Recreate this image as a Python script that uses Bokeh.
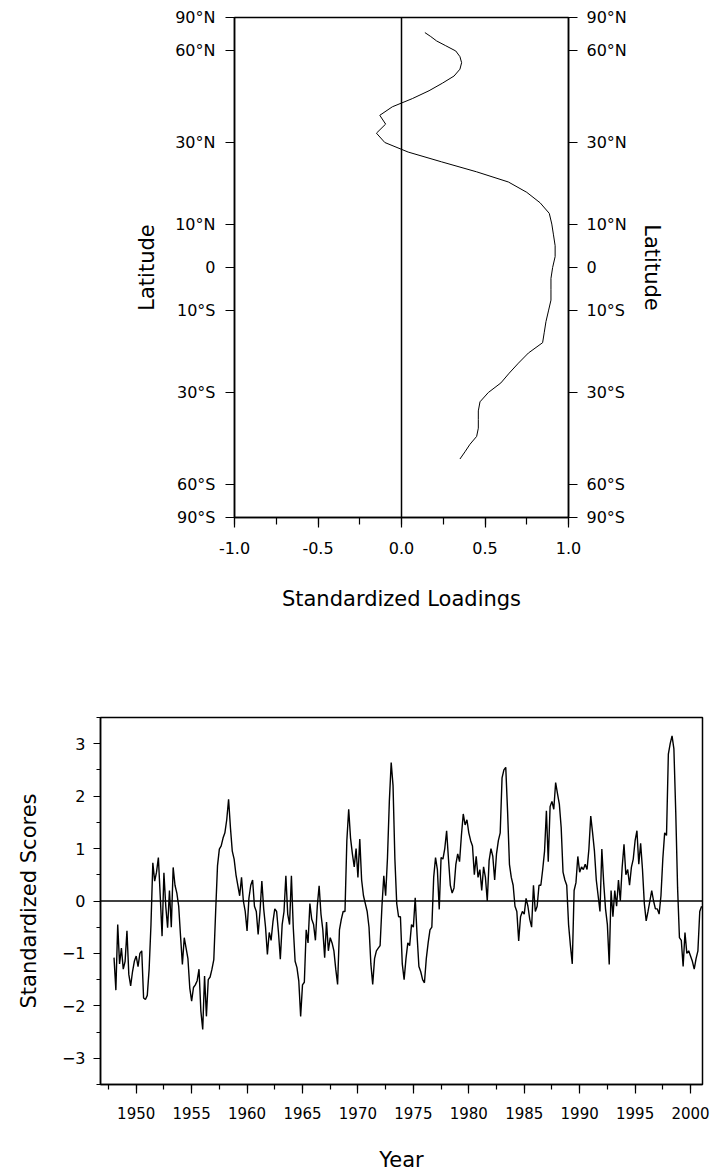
import numpy as np
from bokeh.plotting import figure
from bokeh.models import Range1d, FixedTicker, LinearAxis, Span
from bokeh.layouts import column
from bokeh.embed import file_html
from bokeh.resources import INLINE

# ---------------- data: meridional loading profile ----------------
latitude = [70, 67.5, 65, 62.5, 60, 57.5, 55, 52.5, 50, 47.5, 45, 42.5, 40, 37.5,
            35, 32.5, 30, 27.5, 25, 22.5, 20, 17.5, 15, 12.5, 10, 7.5, 5, 2.5, 0,
            -2.5, -5, -7.5, -10, -12.5, -15, -17.5, -20, -22.5, -25, -27.5, -30,
            -32.5, -35, -37.5, -40, -42.5, -45, -47.5, -50]
loading = [0.14, 0.175, 0.21, 0.265, 0.325, 0.35, 0.36, 0.35, 0.315, 0.245, 0.165,
           0.065, -0.055, -0.13, -0.095, -0.15, -0.10, 0.04, 0.24, 0.45, 0.64, 0.75,
           0.83, 0.885, 0.90, 0.91, 0.92, 0.92, 0.905, 0.895, 0.895, 0.895, 0.88,
           0.865, 0.855, 0.845, 0.76, 0.70, 0.645, 0.595, 0.52, 0.47, 0.46, 0.46,
           0.46, 0.45, 0.41, 0.38, 0.35]

lat_ticks = [90, 60, 30, 10, 0, -10, -30, -60, -90]
lat_tick_labels = ["90°N", "60°N", "30°N", "10°N", "0", "10°S", "30°S", "60°S", "90°S"]
load_ticks = [-1.0, -0.5, 0.0, 0.5, 1.0]
load_minor = [-1.0, -0.75, -0.5, -0.25, 0.0, 0.25, 0.5, 0.75, 1.0]
load_tick_labels = ["-1.0", "-0.5", "0.0", "0.5", "1.0"]

# ---------------- data: score time series (bimonthly, from Jan 1948) ----------------
start_year = 1948
steps_per_year = 6
scores = [
    -1.08, -1.70, -0.45, -1.2, -0.9, -1.3, -1.15, -0.57, -1.4, -1.62,
    -1.35, -1.15, -1.05, -1.25, -1.0, -0.95, -1.85, -1.88, -1.8, -1.3,
    -0.45, 0.73, 0.38, 0.55, 0.83, 0.1, -0.67, 0.54, -0.1, -0.51,
    0.2, -0.5, 0.64, 0.3, 0.15, -0.1, -0.67, -1.21, -0.7, -0.9,
    -1.1, -1.66, -1.91, -1.65, -1.6, -1.52, -1.3, -2.1, -2.45, -1.43,
    -2.2, -1.5, -1.45, -1.3, -1.12, -0.2, 0.67, 0.99, 1.05, 1.2,
    1.3, 1.55, 1.94, 1.4, 0.95, 0.8, 0.5, 0.3, 0.1, 0.45,
    0.0, -0.2, -0.57, 0.05,
    0.3, 0.4, -0.1, -0.2, -0.64, -0.2, 0.38, -0.15, -0.5, -1.02,
    -0.6, -0.75, -0.4, -0.15, -0.2, -0.6, -1.11, -0.45, -0.2, 0.48,
    -0.25, -0.45, 0.48, -0.5, -1.15, -1.27, -1.53, -2.2, -1.6, -1.55,
    -0.55, -0.8, -0.05, -0.35, -0.45, -0.75, -0.1, 0.29, -0.25, -0.55,
    -1.08, -0.4, -0.95, -0.7, -0.8, -0.95, -1.3, -1.59, -0.55, -0.35,
    -0.2, -0.2, 1.15, 1.75, 1.2, 0.9, 0.65, 1.0, 0.45, 1.18,
    0.4, 0.1, -0.05, -0.2, -0.5, -1.2, -1.59, -1.1, -0.95, -0.9,
    -0.85, -0.1, 0.48, 0.1, 0.83, 1.9, 2.64, 2.2, 0.8, -0.05,
    -0.3,
    -0.3, -1.2, -1.5, -1.1, -0.8, -0.85, -0.45, -0.5, 0.06, -0.65,
    -1.25, -1.35, -1.5, -1.56, -1.1, -0.8, -0.55, -0.5, 0.45, 0.83,
    0.6, -0.16, 0.83, 0.8, 1.0, 1.34, 0.8, 0.3, 0.15, 0.25,
    0.7, 0.9, 0.75, 1.25, 1.66, 1.45, 1.55, 1.3, 1.15, 1.05,
    0.5, 0.85, 0.45, 0.6, 0.2, 0.65, 0.45, 0.0, 0.77, 1.0,
    0.85, 0.4, 0.9, 1.15, 1.3, 2.35, 2.5, 2.55, 1.7, 0.7,
    0.45, 0.3, -0.1, -0.2, -0.76, -0.3, -0.2, -0.25, 0.05, -0.1,
    -0.35, -0.5, 0.3, -0.2, -0.1, 0.3, 0.3, 0.6, 0.95, 1.72,
    0.75, 1.8,
    1.9, 1.75, 2.26, 2.05, 1.85, 1.4, 0.55, 0.4, 0.3, -0.45,
    -0.85, -1.2, 0.2, 0.35, 0.85, 0.55, 0.65, 0.6, 0.7, 0.6,
    0.99, 1.62, 1.3, 0.95, 0.4, 0.1, -0.2, 0.99, 0.35, -0.15,
    -0.45, -1.21, 0.2, -0.3, 0.2, -0.1, 0.4, 0.0, 0.64, 1.08,
    0.5, 0.6, 0.3, 0.64, 0.8, 1.15, 1.34, 0.7, 1.1, 0.6,
    -0.05, -0.38, -0.2, 0.0, 0.2, 0.0, -0.15, -0.15, -0.25, 0.1,
    0.8, 1.3, 1.25, 2.8, 3.0, 3.15, 2.9, 1.7, 0.25, -0.7,
    -0.75, -1.25, -0.6, -1.0, -0.95, -1.05, -1.15, -1.3, -1.1, -0.95,
    -0.2, -0.1,
]
years = [start_year + i / steps_per_year for i in range(len(scores))]

year_ticks = [1950, 1955, 1960, 1965, 1970, 1975, 1980, 1985, 1990, 1995, 2000]
year_minor = [1947.5 + 2.5 * i for i in range(22)]
score_ticks = [-3, -2, -1, 0, 1, 2, 3]
score_minor = [-3.5 + 0.5 * i for i in range(15)]

FONT = "DejaVu Sans"


def style_axis(ax, size="16px"):
    ax.axis_line_color = "black"
    ax.axis_line_width = 1.5
    ax.major_tick_line_color = "black"
    ax.major_tick_line_width = 1.2
    ax.minor_tick_line_color = "black"
    ax.minor_tick_line_width = 1.2
    ax.major_tick_in = 0
    ax.minor_tick_in = 0
    ax.major_label_text_font = FONT
    ax.major_label_text_font_size = size
    ax.major_label_text_color = "black"
    ax.axis_label_text_font = FONT
    ax.axis_label_text_font_size = "21px"
    ax.axis_label_text_font_style = "normal"
    ax.axis_label_text_color = "black"


# ---------------- top panel ----------------
sin_lat = np.sin(np.radians(latitude))
lat_tick_pos = [float(v) for v in np.sin(np.radians(lat_ticks))]
lat_overrides = {p: l for p, l in zip(lat_tick_pos, lat_tick_labels)}

p1 = figure(frame_width=334, frame_height=500,
            x_range=Range1d(-1, 1), y_range=Range1d(-1, 1),
            output_backend="svg", toolbar_location=None,
            min_border_left=234, min_border_right=110,
            min_border_top=17, min_border_bottom=100)
p1.frame_align = False
p1.grid.visible = False
p1.outline_line_color = "black"
p1.outline_line_width = 1.5
p1.background_fill_color = "white"
p1.border_fill_color = "white"

p1.xaxis.ticker = FixedTicker(ticks=load_ticks, minor_ticks=load_minor)
p1.xaxis.major_label_overrides = dict(zip(load_ticks, load_tick_labels))
p1.xaxis.axis_label = "Standardized Loadings"
style_axis(p1.xaxis[0])
p1.xaxis.major_tick_out = 10
p1.xaxis.minor_tick_out = 7
p1.xaxis.major_label_standoff = 14
p1.xaxis.axis_label_standoff = 30

p1.yaxis.ticker = FixedTicker(ticks=lat_tick_pos, minor_ticks=[])
p1.yaxis.major_label_overrides = lat_overrides
p1.yaxis.axis_label = "Latitude"
style_axis(p1.yaxis[0])
p1.yaxis.major_tick_out = 9
p1.yaxis.minor_tick_out = 0
p1.yaxis.major_label_standoff = 10
p1.yaxis.axis_label_standoff = 13

ry = LinearAxis(ticker=FixedTicker(ticks=lat_tick_pos, minor_ticks=[]),
                major_label_overrides=lat_overrides, axis_label="Latitude")
style_axis(ry)
ry.major_tick_out = 9
ry.minor_tick_out = 0
ry.major_label_standoff = 9
ry.axis_label_standoff = 10
p1.add_layout(ry, "right")

p1.add_layout(Span(location=0, dimension="height", line_color="black", line_width=1.5))
p1.line(loading, sin_lat, line_color="black", line_width=1)

# ---------------- bottom panel ----------------
p2 = figure(frame_width=602, frame_height=367,
            x_range=Range1d(1946.78, 2001.08), y_range=Range1d(-3.5, 3.5),
            output_backend="svg", toolbar_location=None,
            min_border_left=100, min_border_right=11,
            min_border_top=100, min_border_bottom=91)
p2.frame_align = False
p2.grid.visible = False
p2.outline_line_color = "black"
p2.outline_line_width = 1.5
p2.background_fill_color = "white"
p2.border_fill_color = "white"

p2.xaxis.ticker = FixedTicker(ticks=year_ticks, minor_ticks=year_minor)
p2.xaxis.axis_label = "Year"
style_axis(p2.xaxis[0], size="15px")
p2.xaxis.major_tick_out = 9
p2.xaxis.minor_tick_out = 5
p2.xaxis.major_label_standoff = 13
p2.xaxis.axis_label_standoff = 26

p2.yaxis.ticker = FixedTicker(ticks=score_ticks, minor_ticks=score_minor)
p2.yaxis.axis_label = "Standardized Scores"
style_axis(p2.yaxis[0])
p2.yaxis.major_tick_out = 7
p2.yaxis.minor_tick_out = 4
p2.yaxis.major_label_standoff = 8
p2.yaxis.axis_label_standoff = 18

p2.add_layout(Span(location=0, dimension="width", line_color="black", line_width=1.5))
p2.line(years, scores, line_color="black", line_width=1.4)

layout = column(p1, p2)
open("out.html", "w").write(file_html(layout, INLINE))
